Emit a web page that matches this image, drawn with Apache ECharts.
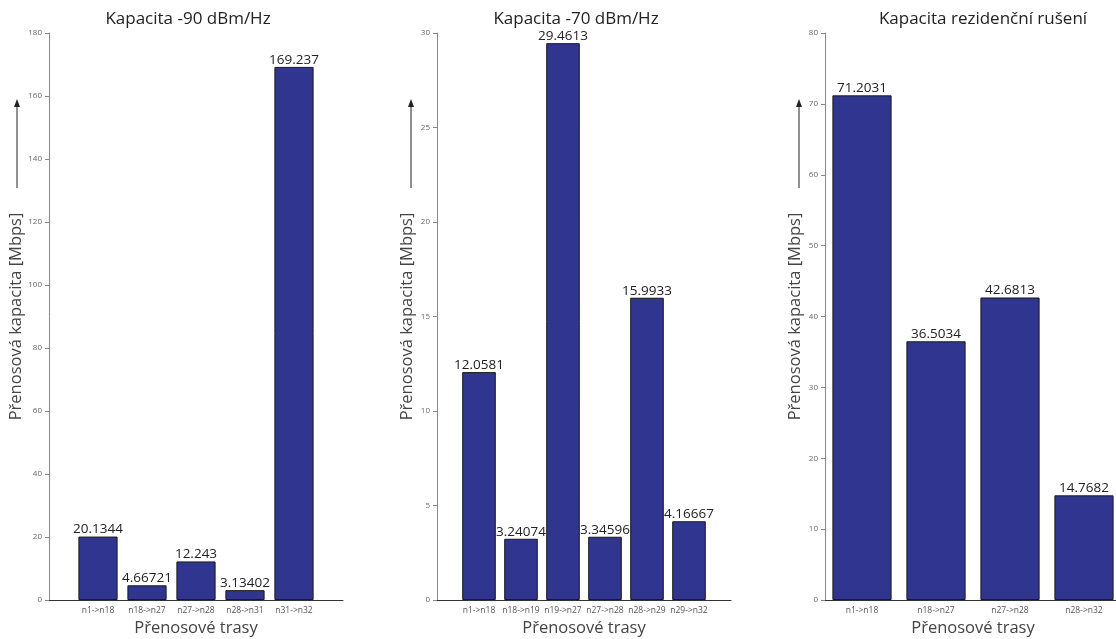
<!DOCTYPE html>
<html>
<head>
<meta charset="utf-8">
<script src="https://cdn.jsdelivr.net/npm/echarts@6/dist/echarts.min.js"></script>
<style>
html,body{margin:0;padding:0;background:#fff;overflow:hidden;}
#chart{width:1116px;height:639px;}
</style>
</head>
<body>
<div id="chart"></div>
<script>
// ---- data ----
const titles = ['Kapacita -90 dBm/Hz', 'Kapacita -70 dBm/Hz', 'Kapacita rezidenční rušení'];
const categories1 = ['n1->n18', 'n18->n27', 'n27->n28', 'n28->n31', 'n31->n32'];
const values1 = [20.1344, 4.66721, 12.243, 3.13402, 169.237];
const labels1 = ['20.1344', '4.66721', '12.243', '3.13402', '169.237'];
const categories2 = ['n1->n18', 'n18->n19', 'n19->n27', 'n27->n28', 'n28->n29', 'n29->n32'];
const values2 = [12.0581, 3.24074, 29.4613, 3.34596, 15.9933, 4.16667];
const labels2 = ['12.0581', '3.24074', '29.4613', '3.34596', '15.9933', '4.16667'];
const categories3 = ['n1->n18', 'n18->n27', 'n27->n28', 'n28->n32'];
const values3 = [71.2031, 36.5034, 42.6813, 14.7682];
const labels3 = ['71.2031', '36.5034', '42.6813', '14.7682'];
const yMax = [180, 30, 80];
const yStep = [20, 5, 10];
const xAxisTitle = 'Přenosové trasy';
const yAxisTitle = 'Přenosová kapacita [Mbps]';

// ---- layout ----
const FONT = '"Open Sans", "DejaVu Sans", sans-serif';
const TOP = 33, BOTTOM = 600;
const panels = [
  {cats: categories1, vals: values1, labs: labels1, left: 49, width: 294, xmin: 0, xmax: 6, arrowX: 17, titleX: 183},
  {cats: categories2, vals: values2, labs: labels2, left: 437, width: 294, xmin: 0, xmax: 7, arrowX: 411, titleX: 571},
  {cats: categories3, vals: values3, labs: labels3, left: 825, width: 296, xmin: 0.5, xmax: 4.5, arrowX: 799, titleX: 978}
];

const grid = [], xAxis = [], yAxis = [], series = [], title = [], graphic = [];
panels.forEach((p, i) => {
  grid.push({left: p.left, top: TOP, width: p.width, height: BOTTOM - TOP, containLabel: false, outerBoundsMode: 'none'});
  const cats = p.cats;
  const idx = cats.map((c, k) => k + 1);
  xAxis.push({
    type: 'value', gridIndex: i, min: p.xmin, max: p.xmax,
    splitLine: {show: false},
    axisLine: {show: true, lineStyle: {color: '#333', width: 1}},
    axisTick: {show: false},
    axisLabel: {
      show: true, customValues: idx, color: '#555', fontSize: 8.5, fontFamily: FONT, margin: 6,
      formatter: v => cats[Math.round(v) - 1] || ''
    },
    name: xAxisTitle, nameLocation: 'middle', nameGap: 17,
    nameTextStyle: {fontSize: 16.5, color: '#444', fontFamily: FONT}
  });
  yAxis.push({
    type: 'value', gridIndex: i, min: 0, max: yMax[i], interval: yStep[i],
    splitLine: {show: false},
    axisLine: {show: true, lineStyle: {color: '#888', width: 1}},
    axisTick: {show: true, length: 4, inside: false, lineStyle: {color: '#888'}},
    axisLabel: {color: '#666', fontSize: 8, fontFamily: FONT, margin: 7},
    name: yAxisTitle, nameLocation: 'middle', nameRotate: 90, nameGap: 21,
    nameTextStyle: {fontSize: 16.5, color: '#444', fontFamily: FONT}
  });
  const barW = p.width / (p.xmax - p.xmin) * 0.8;
  series.push({
    type: 'bar', xAxisIndex: i, yAxisIndex: i,
    data: p.vals.map((v, k) => [k + 1, v]),
    barWidth: barW,
    itemStyle: {color: '#30358f', borderColor: '#1a1a1a', borderWidth: 1},
    label: {
      show: true, position: 'top', distance: 0,
      formatter: d => p.labs[d.dataIndex],
      fontSize: 13.5, color: '#222', fontFamily: FONT
    },
    animation: false
  });
  title.push({
    text: titles[i], left: p.titleX, top: 6, textAlign: 'center',
    textStyle: {fontSize: 17, fontWeight: 'normal', color: '#222', fontFamily: FONT}
  });
  graphic.push({
    type: 'line', shape: {x1: p.arrowX, y1: 188, x2: p.arrowX, y2: 106},
    style: {stroke: '#222', lineWidth: 1}
  });
  graphic.push({
    type: 'polygon', shape: {points: [[p.arrowX, 99], [p.arrowX - 3, 107], [p.arrowX + 3, 107]]},
    style: {fill: '#222'}
  });
});

const chart = echarts.init(document.getElementById('chart'), null, {renderer: 'canvas'});
chart.setOption({
  animation: false,
  backgroundColor: '#fff',
  title, grid, xAxis, yAxis, series, graphic
});
</script>
</body>
</html>
